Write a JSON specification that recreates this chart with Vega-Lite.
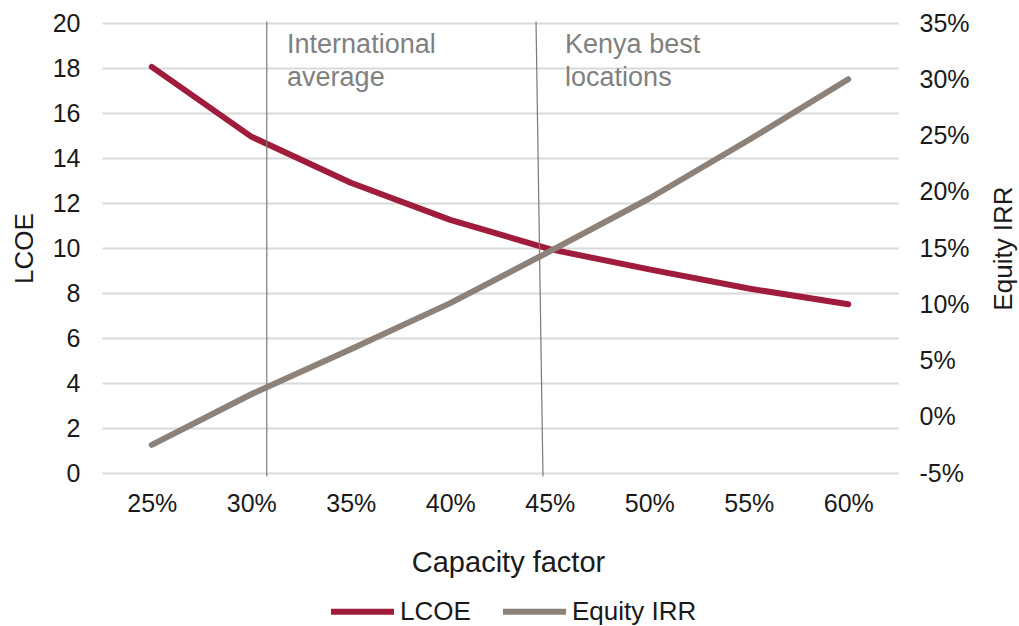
{
  "$schema": "https://vega.github.io/schema/vega-lite/v6.json",
  "width": 796,
  "height": 450,
  "autosize": "none",
  "padding": {"left": 102, "top": 23, "right": 121, "bottom": 153},
  "background": "white",
  "config": {
    "view": {"stroke": null},
    "font": "Liberation Sans",
    "axis": {"labelColor": "#1a1a1a", "titleColor": "#1a1a1a", "titleFontWeight": "normal"}
  },
  "datasets": {
    "series": [
      {"cf": 25, "series": "LCOE", "value": 18.05},
      {"cf": 30, "series": "LCOE", "value": 14.95},
      {"cf": 35, "series": "LCOE", "value": 12.9},
      {"cf": 40, "series": "LCOE", "value": 11.25},
      {"cf": 45, "series": "LCOE", "value": 9.95},
      {"cf": 50, "series": "LCOE", "value": 9.05},
      {"cf": 55, "series": "LCOE", "value": 8.2},
      {"cf": 60, "series": "LCOE", "value": 7.5},
      {"cf": 25, "series": "Equity IRR", "value": -2.5},
      {"cf": 30, "series": "Equity IRR", "value": 2.0},
      {"cf": 35, "series": "Equity IRR", "value": 6.0},
      {"cf": 40, "series": "Equity IRR", "value": 10.1},
      {"cf": 45, "series": "Equity IRR", "value": 14.7},
      {"cf": 50, "series": "Equity IRR", "value": 19.4},
      {"cf": 55, "series": "Equity IRR", "value": 24.6},
      {"cf": 60, "series": "Equity IRR", "value": 30.0}
    ],
    "vlines": [
      {"cf": 30.78, "cf2": 30.78, "ytop": 20.07, "ybot": -0.15},
      {"cf": 44.31, "cf2": 44.66, "ytop": 20.07, "ybot": -0.15}
    ],
    "notes": [
      {"cf": 31.8, "y": 18.67, "label": ["International", "average"]},
      {"cf": 45.77, "y": 18.67, "label": ["Kenya best", "locations"]}
    ]
  },
  "layer": [
    {
      "layer": [
        {
          "data": {"name": "series"},
          "transform": [{"filter": "datum.series === 'LCOE'"}],
          "mark": {"type": "line", "strokeWidth": 6, "strokeCap": "round", "strokeJoin": "round"},
          "encoding": {
            "x": {
              "field": "cf", "type": "quantitative", "title": "Capacity factor",
              "scale": {"domain": [22.5, 62.5], "nice": false, "zero": false},
              "axis": {
                "values": [25, 30, 35, 40, 45, 50, 55, 60],
                "labelExpr": "datum.value + '%'",
                "domain": false, "ticks": false, "grid": false,
                "labelFontSize": 25, "labelPadding": 18,
                "titleFontSize": 29, "titleX": 406, "titleY": 89, "titleBaseline": "middle"
              }
            },
            "y": {
              "field": "value", "type": "quantitative", "title": "LCOE",
              "scale": {"domain": [0, 20], "nice": false},
              "axis": {
                "orient": "left",
                "values": [0, 2, 4, 6, 8, 10, 12, 14, 16, 18, 20],
                "domain": false, "ticks": false,
                "grid": true, "gridColor": "#d9d9d9", "gridWidth": 2,
                "labelFontSize": 25, "labelPadding": 22,
                "titleFontSize": 26, "titleX": -78, "titleY": 225, "titleBaseline": "middle", "titleAngle": -90
              }
            },
            "color": {
              "field": "series", "type": "nominal",
              "scale": {"domain": ["LCOE", "Equity IRR"], "range": ["#A01C3C", "#8C8279"]},
              "legend": {
                "title": null, "orient": "none", "direction": "horizontal",
                "legendX": 226, "legendY": 554,
                "symbolType": "stroke", "symbolSize": 3969, "symbolStrokeWidth": 6,
                "labelFontSize": 26, "labelColor": "#1a1a1a", "labelOffset": 3, "columnPadding": 20
              }
            }
          }
        },
        {
          "data": {"name": "vlines"},
          "mark": {"type": "rule", "color": "#7a7a7a", "strokeWidth": 1.2},
          "encoding": {
            "x": {"field": "cf", "type": "quantitative", "title": "Capacity factor"},
            "x2": {"field": "cf2"},
            "y": {"field": "ytop", "type": "quantitative", "title": "LCOE"},
            "y2": {"field": "ybot"}
          }
        },
        {
          "data": {"name": "notes"},
          "mark": {"type": "text", "align": "left", "baseline": "alphabetic", "fontSize": 27, "lineHeight": 32.7, "color": "#808080"},
          "encoding": {
            "x": {"field": "cf", "type": "quantitative", "title": "Capacity factor"},
            "y": {"field": "y", "type": "quantitative", "title": "LCOE"},
            "text": {"field": "label"}
          }
        }
      ]
    },
    {
      "data": {"name": "series"},
      "transform": [{"filter": "datum.series === 'Equity IRR'"}],
      "mark": {"type": "line", "strokeWidth": 6, "strokeCap": "round", "strokeJoin": "round"},
      "encoding": {
        "x": {"field": "cf", "type": "quantitative", "title": "Capacity factor"},
        "y": {
          "field": "value", "type": "quantitative", "title": "Equity IRR",
          "scale": {"domain": [-5, 35], "nice": false, "zero": false},
          "axis": {
            "orient": "right",
            "values": [-5, 0, 5, 10, 15, 20, 25, 30, 35],
            "labelExpr": "datum.value + '%'",
            "domain": false, "ticks": false, "grid": false,
            "labelFontSize": 25, "labelPadding": 21,
            "titleFontSize": 26, "titleX": 105, "titleY": 225, "titleBaseline": "middle", "titleAngle": -90
          }
        },
        "color": {"field": "series", "type": "nominal"}
      }
    }
  ],
  "resolve": {"scale": {"y": "independent"}}
}
